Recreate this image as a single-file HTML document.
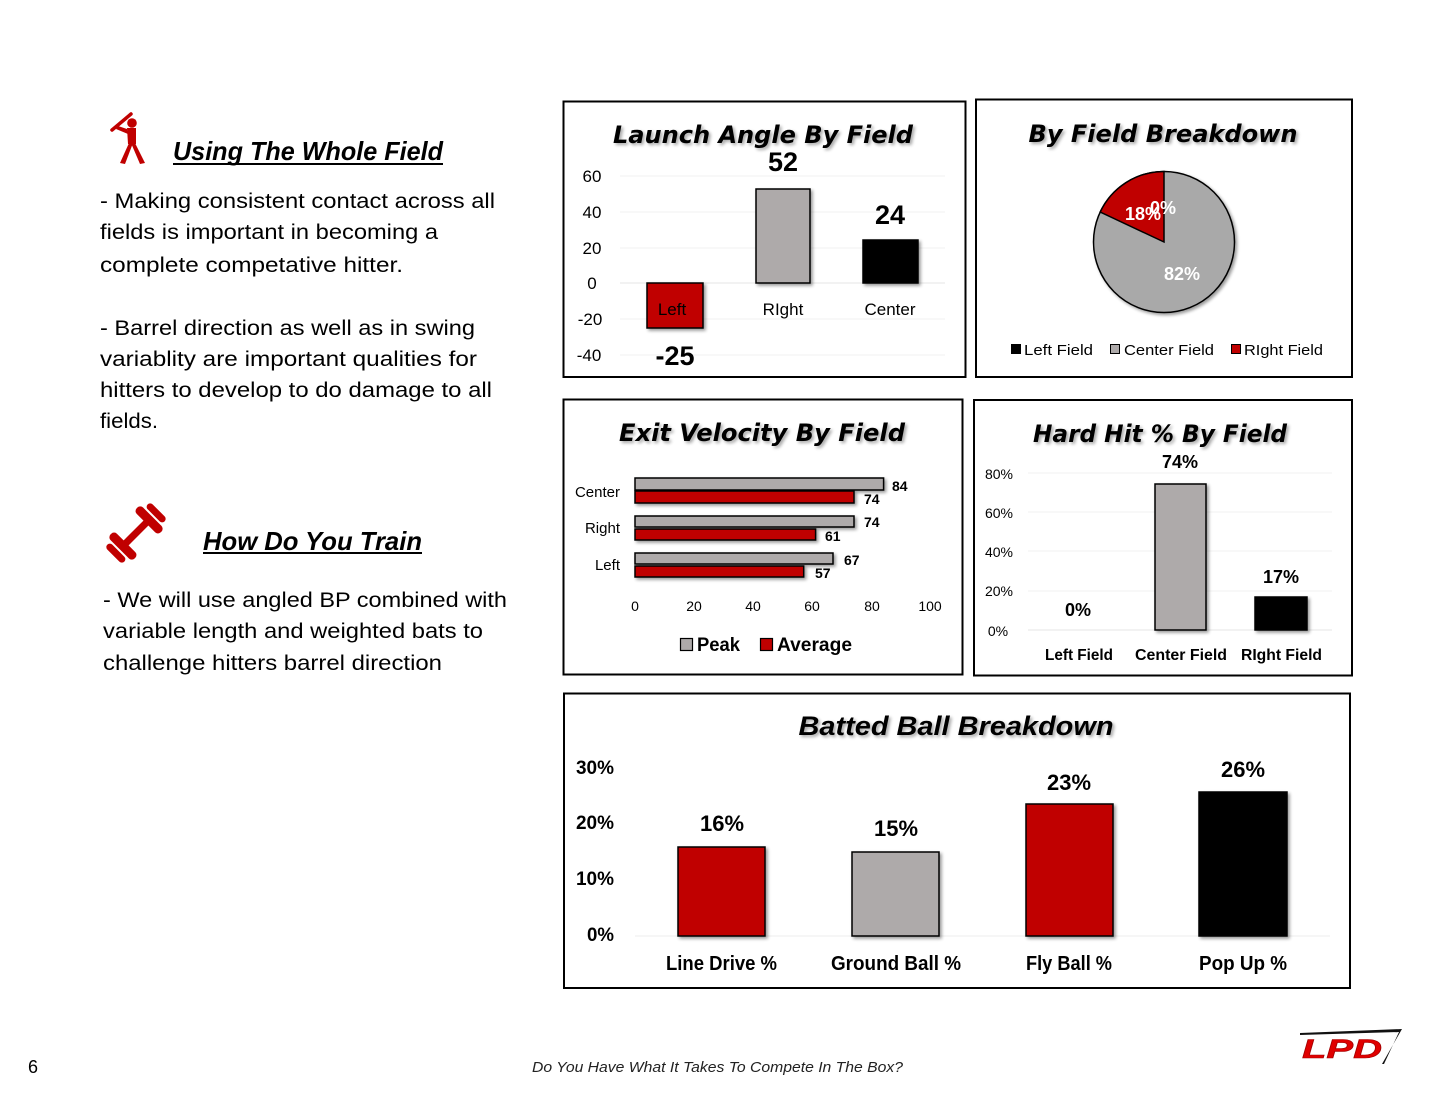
<!DOCTYPE html>
<html><head><meta charset="utf-8"><style>
html,body{margin:0;padding:0;background:#fff;}
svg{display:block;}
</style></head><body>
<svg width="1438" height="1117" viewBox="0 0 1438 1117" xmlns="http://www.w3.org/2000/svg">
<defs>
<filter id="ts" x="-10%" y="-30%" width="120%" height="160%">
<feGaussianBlur in="SourceAlpha" stdDeviation="1.6"/>
<feOffset dx="2" dy="2" result="b"/>
<feComponentTransfer><feFuncA type="linear" slope="0.35"/></feComponentTransfer>
<feMerge><feMergeNode/><feMergeNode in="SourceGraphic"/></feMerge>
</filter>
<filter id="bs" x="-20%" y="-20%" width="140%" height="140%">
<feGaussianBlur in="SourceAlpha" stdDeviation="1.5"/>
<feOffset dx="2" dy="2"/>
<feComponentTransfer><feFuncA type="linear" slope="0.4"/></feComponentTransfer>
<feMerge><feMergeNode/><feMergeNode in="SourceGraphic"/></feMerge>
</filter>
</defs>

<!-- ===== Left text ===== -->
<g fill="#c00000">
  <circle cx="132" cy="123" r="4.8"/>
  <line x1="112" y1="130" x2="131" y2="114" stroke="#c00000" stroke-width="3.5" stroke-linecap="round"/>
  <path d="M127,128 L136,128 L136,144 L128,144 Z"/>
  <path d="M127,129 L118,126 L116,129 L128,134 Z"/>
  <path d="M129,143 L133,143 L125,164 L120,163 Z"/>
  <path d="M131,143 L135,143 L145,163 L140,164 Z"/>
</g>
<text x="173" y="160" font-family="Liberation Sans, sans-serif" font-weight="bold" font-style="italic" font-size="26" textLength="270" lengthAdjust="spacingAndGlyphs">Using The Whole Field</text>
<rect x="173" y="163" width="270" height="2" fill="#000"/>

<g font-family="Liberation Sans, sans-serif" font-size="21" fill="#000">
<text x="100" y="208" textLength="395" lengthAdjust="spacingAndGlyphs">-  Making consistent  contact across all</text>
<text x="100" y="239" textLength="338" lengthAdjust="spacingAndGlyphs">fields is important in becoming a</text>
<text x="100" y="272" textLength="303" lengthAdjust="spacingAndGlyphs">complete competative hitter.</text>
<text x="100" y="335" textLength="375" lengthAdjust="spacingAndGlyphs">-  Barrel direction as well as in swing</text>
<text x="100" y="366" textLength="377" lengthAdjust="spacingAndGlyphs">variablity are important qualities for</text>
<text x="100" y="397" textLength="392" lengthAdjust="spacingAndGlyphs">hitters to develop to do damage to all</text>
<text x="100" y="428" textLength="58" lengthAdjust="spacingAndGlyphs">fields.</text>
</g>

<!-- dumbbell -->
<g transform="translate(136,533) rotate(-45)" fill="#c00000">
  <rect x="-22" y="-3.5" width="44" height="7"/>
  <rect x="14" y="-17" width="9" height="34" rx="4"/>
  <rect x="25" y="-12" width="7" height="24" rx="3.5"/>
  <rect x="-23" y="-17" width="9" height="34" rx="4"/>
  <rect x="-32" y="-12" width="7" height="24" rx="3.5"/>
</g>
<text x="203" y="550" font-family="Liberation Sans, sans-serif" font-weight="bold" font-style="italic" font-size="26" textLength="219" lengthAdjust="spacingAndGlyphs">How Do You Train</text>
<rect x="203" y="552" width="219" height="2" fill="#000"/>
<g font-family="Liberation Sans, sans-serif" font-size="21" fill="#000">
<text x="103" y="607" textLength="404" lengthAdjust="spacingAndGlyphs">- We will use angled BP combined  with</text>
<text x="103" y="638" textLength="380" lengthAdjust="spacingAndGlyphs">variable length and weighted bats to</text>
<text x="103" y="670" textLength="339" lengthAdjust="spacingAndGlyphs">challenge hitters barrel direction</text>
</g>

<!-- ===== Launch Angle ===== -->
<rect x="563.5" y="101.5" width="402" height="275.5" fill="#fff" stroke="#000" stroke-width="2"/>
<text x="763" y="143" text-anchor="middle" font-family="DejaVu Sans, sans-serif" font-weight="bold" font-style="italic" font-size="24" textLength="300" lengthAdjust="spacingAndGlyphs" filter="url(#ts)">Launch Angle By Field</text>
<g stroke="#f0f0f0" stroke-width="1">
<line x1="620" y1="176" x2="945" y2="176"/><line x1="620" y1="212" x2="945" y2="212"/>
<line x1="620" y1="248" x2="945" y2="248"/><line x1="620" y1="319" x2="945" y2="319"/>
<line x1="620" y1="355" x2="945" y2="355"/>
</g>
<line x1="620" y1="283" x2="945" y2="283" stroke="#e4e4e4" stroke-width="1"/>
<g font-family="Liberation Sans, sans-serif" font-size="17" text-anchor="middle" fill="#000">
<text x="592" y="182">60</text><text x="592" y="218">40</text><text x="592" y="254">20</text>
<text x="592" y="289">0</text><text x="590" y="325">-20</text><text x="589" y="361">-40</text>
</g>
<g filter="url(#bs)" stroke="#000" stroke-width="1.5">
<rect x="647" y="283" width="56" height="45" fill="#c00000"/>
<rect x="756" y="189" width="54" height="94" fill="#aeaaaa"/>
<rect x="863" y="240" width="55" height="43" fill="#000"/>
</g>
<g font-family="Liberation Sans, sans-serif" font-size="17" text-anchor="middle" fill="#000">
<text x="672" y="315">Left</text><text x="783" y="315">RIght</text><text x="890" y="315">Center</text>
</g>
<g font-family="Liberation Sans, sans-serif" font-weight="bold" font-size="27" text-anchor="middle" fill="#000">
<text x="783" y="171">52</text><text x="890" y="224">24</text><text x="675" y="365">-25</text>
</g>

<!-- ===== By Field Breakdown ===== -->
<rect x="976" y="99.5" width="376" height="277.5" fill="#fff" stroke="#000" stroke-width="2"/>
<text x="1163" y="142" text-anchor="middle" font-family="DejaVu Sans, sans-serif" font-weight="bold" font-style="italic" font-size="24" textLength="269" lengthAdjust="spacingAndGlyphs" filter="url(#ts)">By Field Breakdown</text>
<g filter="url(#bs)">
<circle cx="1164" cy="242" r="70.5" fill="#a9a9a9" stroke="#000" stroke-width="1.5"/>
<path d="M1164,242 L1164,171.5 A70.5,70.5 0 0 0 1100.2,212 Z" fill="#c00000" stroke="#000" stroke-width="1.5"/>
</g>
<g font-family="Liberation Sans, sans-serif" font-weight="bold" font-size="18" fill="#fff" text-anchor="middle">
<text x="1163" y="214">0%</text>
<text x="1143" y="220">18%</text>
<text x="1182" y="280">82%</text>
</g>
<g stroke="#000" stroke-width="1">
<rect x="1011.5" y="344.5" width="9" height="9" fill="#000"/>
<rect x="1110.5" y="344.5" width="9" height="9" fill="#aeaaaa"/>
<rect x="1231.5" y="344.5" width="9" height="9" fill="#c00000"/>
</g>
<g font-family="Liberation Sans, sans-serif" font-size="15" fill="#000">
<text x="1024" y="355" textLength="69" lengthAdjust="spacingAndGlyphs">Left Field</text>
<text x="1124" y="355" textLength="90" lengthAdjust="spacingAndGlyphs">Center Field</text>
<text x="1244" y="355" textLength="79" lengthAdjust="spacingAndGlyphs">RIght Field</text>
</g>

<!-- ===== Exit Velocity ===== -->
<rect x="563.5" y="399.5" width="399" height="275" fill="#fff" stroke="#000" stroke-width="2"/>
<text x="762" y="441" text-anchor="middle" font-family="DejaVu Sans, sans-serif" font-weight="bold" font-style="italic" font-size="24" textLength="286" lengthAdjust="spacingAndGlyphs" filter="url(#ts)">Exit Velocity By Field</text>
<g filter="url(#bs)" stroke="#000" stroke-width="1.5">
<rect x="635" y="478" width="248.6" height="12" fill="#aeaaaa"/>
<rect x="635" y="491" width="219" height="12" fill="#c00000"/>
<rect x="635" y="516" width="219" height="11" fill="#aeaaaa"/>
<rect x="635" y="529" width="180.6" height="11" fill="#c00000"/>
<rect x="635" y="553" width="198" height="11" fill="#aeaaaa"/>
<rect x="635" y="566" width="168.7" height="11" fill="#c00000"/>
</g>
<g font-family="Liberation Sans, sans-serif" font-size="15" text-anchor="end" fill="#000">
<text x="620" y="497">Center</text><text x="620" y="533">Right</text><text x="620" y="570">Left</text>
</g>
<g font-family="Liberation Sans, sans-serif" font-weight="bold" font-size="14" fill="#000">
<text x="892" y="491">84</text><text x="864" y="504">74</text>
<text x="864" y="527">74</text><text x="825" y="541">61</text>
<text x="844" y="565">67</text><text x="815" y="578">57</text>
</g>
<g font-family="Liberation Sans, sans-serif" font-size="14" text-anchor="middle" fill="#000">
<text x="635" y="611">0</text><text x="694" y="611">20</text><text x="753" y="611">40</text>
<text x="812" y="611">60</text><text x="872" y="611">80</text><text x="930" y="611">100</text>
</g>
<rect x="680.5" y="638.5" width="12" height="12" fill="#aeaaaa" stroke="#000" stroke-width="1.2"/>
<rect x="760.5" y="638.5" width="12" height="12" fill="#c00000" stroke="#000" stroke-width="1.2"/>
<g font-family="Liberation Sans, sans-serif" font-weight="bold" font-size="19" fill="#000">
<text x="697" y="651" textLength="43" lengthAdjust="spacingAndGlyphs">Peak</text>
<text x="777" y="651" textLength="75" lengthAdjust="spacingAndGlyphs">Average</text>
</g>

<!-- ===== Hard Hit ===== -->
<rect x="974" y="400" width="378" height="275.5" fill="#fff" stroke="#000" stroke-width="2"/>
<text x="1160" y="442" text-anchor="middle" font-family="DejaVu Sans, sans-serif" font-weight="bold" font-style="italic" font-size="24" textLength="254" lengthAdjust="spacingAndGlyphs" filter="url(#ts)">Hard Hit % By Field</text>
<g stroke="#f0f0f0" stroke-width="1">
<line x1="1028" y1="473" x2="1332" y2="473"/><line x1="1028" y1="512" x2="1332" y2="512"/>
<line x1="1028" y1="551" x2="1332" y2="551"/><line x1="1028" y1="591" x2="1332" y2="591"/>
</g>
<line x1="1028" y1="630" x2="1332" y2="630" stroke="#e4e4e4" stroke-width="1"/>
<g font-family="Liberation Sans, sans-serif" font-size="14" text-anchor="middle" fill="#000">
<text x="999" y="479">80%</text><text x="999" y="518">60%</text><text x="999" y="557">40%</text>
<text x="999" y="596">20%</text><text x="998" y="636">0%</text>
</g>
<g filter="url(#bs)" stroke="#000" stroke-width="1.5">
<rect x="1155" y="484" width="51" height="146" fill="#aeaaaa"/>
<rect x="1255" y="597" width="52" height="33" fill="#000"/>
</g>
<g font-family="Liberation Sans, sans-serif" font-weight="bold" font-size="18" text-anchor="middle" fill="#000">
<text x="1180" y="468">74%</text><text x="1281" y="583">17%</text><text x="1078" y="616">0%</text>
</g>
<g font-family="Liberation Sans, sans-serif" font-weight="bold" font-size="16" fill="#000">
<text x="1045" y="660" textLength="68" lengthAdjust="spacingAndGlyphs">Left Field</text>
<text x="1135" y="660" textLength="92" lengthAdjust="spacingAndGlyphs">Center Field</text>
<text x="1241" y="660" textLength="81" lengthAdjust="spacingAndGlyphs">RIght Field</text>
</g>

<!-- ===== Batted Ball ===== -->
<rect x="564" y="693.5" width="786" height="294.5" fill="#fff" stroke="#000" stroke-width="2"/>
<text x="956" y="735" text-anchor="middle" font-family="Liberation Sans, sans-serif" font-weight="bold" font-style="italic" font-size="27" textLength="315" lengthAdjust="spacingAndGlyphs" filter="url(#ts)">Batted Ball Breakdown</text>
<line x1="635" y1="936" x2="1330" y2="936" stroke="#ececec" stroke-width="1"/>
<g font-family="Liberation Sans, sans-serif" font-weight="bold" font-size="19" text-anchor="end" fill="#000">
<text x="614" y="774" textLength="38" lengthAdjust="spacingAndGlyphs">30%</text>
<text x="614" y="829" textLength="38" lengthAdjust="spacingAndGlyphs">20%</text>
<text x="614" y="885" textLength="38" lengthAdjust="spacingAndGlyphs">10%</text>
<text x="614" y="941" textLength="27" lengthAdjust="spacingAndGlyphs">0%</text>
</g>
<g filter="url(#bs)" stroke="#000" stroke-width="1.5">
<rect x="678" y="847" width="87" height="89" fill="#c00000"/>
<rect x="852" y="852" width="87" height="84" fill="#aeaaaa"/>
<rect x="1026" y="804" width="87" height="132" fill="#c00000"/>
<rect x="1199" y="792" width="88" height="144" fill="#000"/>
</g>
<g font-family="Liberation Sans, sans-serif" font-weight="bold" font-size="22" text-anchor="middle" fill="#000">
<text x="722" y="831" textLength="44" lengthAdjust="spacingAndGlyphs">16%</text>
<text x="896" y="836" textLength="44" lengthAdjust="spacingAndGlyphs">15%</text>
<text x="1069" y="790" textLength="44" lengthAdjust="spacingAndGlyphs">23%</text>
<text x="1243" y="777" textLength="44" lengthAdjust="spacingAndGlyphs">26%</text>
</g>
<g font-family="Liberation Sans, sans-serif" font-weight="bold" font-size="20" fill="#000">
<text x="666" y="970" textLength="111" lengthAdjust="spacingAndGlyphs">Line Drive %</text>
<text x="831" y="970" textLength="130" lengthAdjust="spacingAndGlyphs">Ground Ball %</text>
<text x="1026" y="970" textLength="86" lengthAdjust="spacingAndGlyphs">Fly Ball %</text>
<text x="1199" y="970" textLength="88" lengthAdjust="spacingAndGlyphs">Pop Up %</text>
</g>

<!-- ===== Footer ===== -->
<text x="28" y="1073" font-family="Liberation Sans, sans-serif" font-size="18" fill="#000">6</text>
<text x="532" y="1072" font-family="Liberation Sans, sans-serif" font-style="italic" font-size="15" fill="#222" textLength="371" lengthAdjust="spacingAndGlyphs">Do You Have What It Takes To Compete In The Box?</text>

<!-- LPD logo -->
<path d="M1300,1033 L1402,1029 L1382,1064 L1384,1064 L1399,1032 L1300,1035 Z" fill="#111"/>
<text x="1302" y="1058" font-family="Liberation Sans, sans-serif" font-weight="bold" font-style="italic" font-size="27" fill="#e00000" stroke="#a00000" stroke-width="0.6" textLength="80" lengthAdjust="spacingAndGlyphs">LPD</text>
</svg>
</body></html>
